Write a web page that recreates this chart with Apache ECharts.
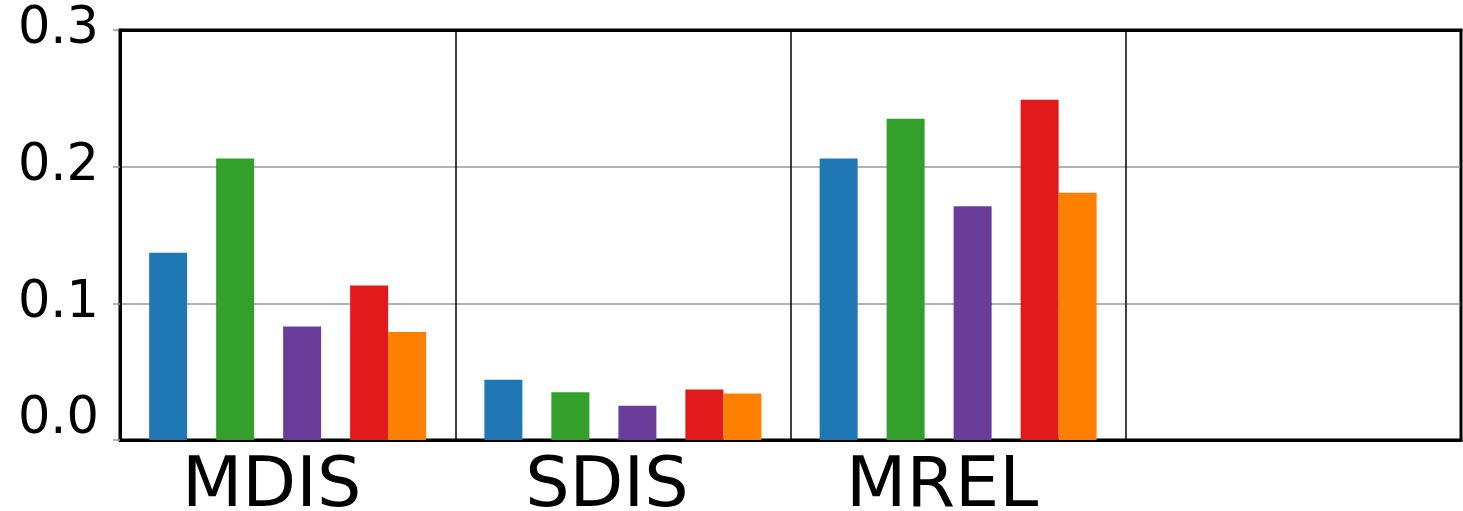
<!DOCTYPE html>
<html>
<head>
<meta charset="utf-8">
<script src="https://cdn.jsdelivr.net/npm/echarts@6/dist/echarts.min.js"></script>
<style>
  html, body { margin: 0; padding: 0; background: #fff; }
  #chart { width: 1463px; height: 511px; }
</style>
</head>
<body>
<div id="chart"></div>
<script>
// Metric groups along the x axis (the last slot is left empty)
const categories = ['MDIS', 'SDIS', 'MREL', ''];

// One array per method, one value per metric group
const methodA = [0.137, 0.044, 0.206, null];
const methodB = [0.206, 0.035, 0.235, null];
const methodC = [0.083, 0.025, 0.171, null];
const methodD = [0.113, 0.037, 0.249, null];
const methodE = [0.079, 0.034, 0.181, null];

// y-axis tick values
const yTicks = [0, 0.1, 0.2, 0.3];

const colors = ['#1f78b4', '#33a02c', '#6a3d9a', '#e31a1c', '#ff7f00'];

function barSeries(name, data, color) {
  return {
    name: name, type: 'bar', data: data, barWidth: 38, barGap: '0%',
    itemStyle: { color: color }, silent: true
  };
}
// empty spacer columns that open the gaps between bars in a group
function spacer(name) {
  return {
    name: name, type: 'bar', data: categories.map(() => null), barWidth: 29, barGap: '0%',
    itemStyle: { color: 'rgba(0,0,0,0)' }, silent: true
  };
}

const chart = echarts.init(document.getElementById('chart'), null, { renderer: 'canvas' });
chart.setOption({
  animation: false,
  backgroundColor: '#ffffff',
  textStyle: { fontFamily: 'DejaVu Sans' },
  grid: {
    left: 120, right: 2, top: 30, bottom: 71,
    outerBoundsMode: 'none', containLabel: false,
    show: true, borderColor: '#000', borderWidth: 3, backgroundColor: 'transparent'
  },
  xAxis: [{
    type: 'category',
    data: categories,
    axisLine: { show: true, lineStyle: { color: '#000', width: 3 } },
    axisTick: { show: false },
    splitLine: { show: true, lineStyle: { color: '#000', width: 1.5 } },
    axisLabel: {
      color: '#000', fontSize: 70, fontFamily: 'DejaVu Sans', margin: 13,
      padding: [0, 32, 0, 0], interval: 0
    }
  }, {
    // top frame edge, drawn above the horizontal grid lines
    type: 'category',
    position: 'top',
    data: categories,
    z: 5,
    axisLine: { show: true, lineStyle: { color: '#000', width: 3 } },
    axisTick: { show: false },
    axisLabel: { show: false },
    splitLine: { show: false }
  }],
  yAxis: {
    type: 'value',
    min: yTicks[0], max: yTicks[yTicks.length - 1], interval: 0.1,
    axisLine: { show: true, lineStyle: { color: '#000', width: 3 } },
    axisTick: { show: true, length: 7, lineStyle: { color: '#999', width: 1.5 } },
    splitLine: { show: true, lineStyle: { color: '#999', width: 1.5 } },
    axisLabel: {
      color: '#000', fontSize: 51, fontFamily: 'DejaVu Sans', margin: 21,
      formatter: function (v) {
        return v === 0 ? '{z|' + v.toFixed(1) + '}' : '{n|' + v.toFixed(1) + '}';
      },
      rich: {
        n: { fontSize: 51, color: '#000', fontFamily: 'DejaVu Sans' },
        z: { fontSize: 51, color: '#000', fontFamily: 'DejaVu Sans', padding: [0, 0, 40, 0] }
      }
    }
  },
  series: [
    barSeries('A', methodA, colors[0]),
    spacer('gap1'),
    barSeries('B', methodB, colors[1]),
    spacer('gap2'),
    barSeries('C', methodC, colors[2]),
    spacer('gap3'),
    barSeries('D', methodD, colors[3]),
    barSeries('E', methodE, colors[4])
  ]
});
</script>
</body>
</html>
